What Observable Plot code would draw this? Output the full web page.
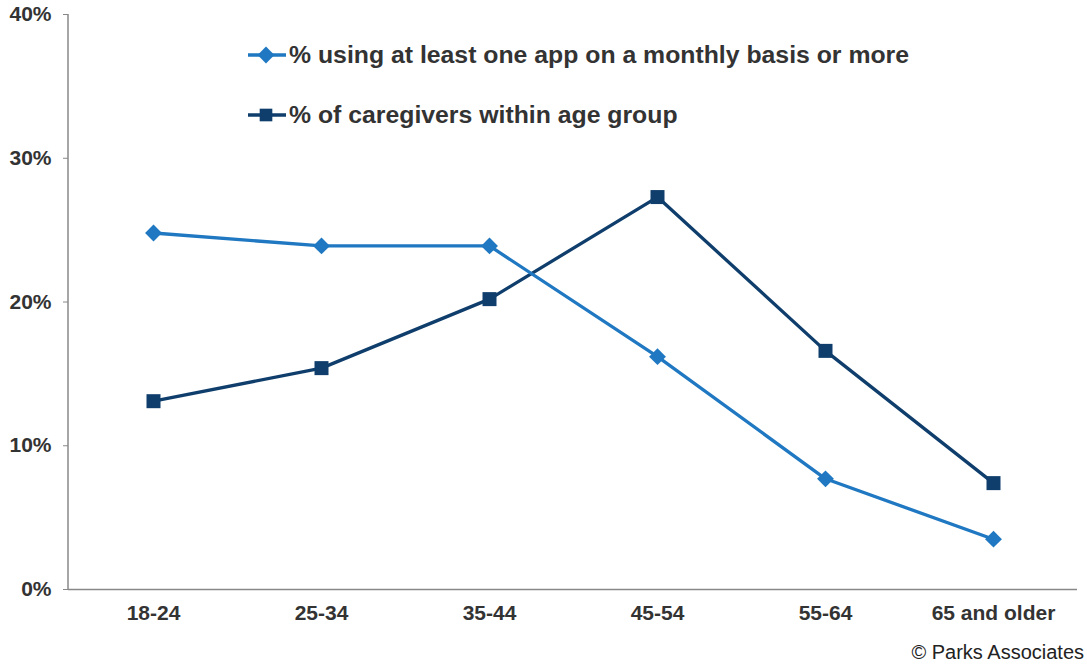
<!DOCTYPE html>
<html>
<head>
<meta charset="utf-8">
<script src="https://cdn.jsdelivr.net/npm/d3@7"></script>
<script src="https://cdn.jsdelivr.net/npm/@observablehq/plot@0.6"></script>
<style>
  html, body { margin: 0; padding: 0; background: #fff; }
  #wrap { position: relative; width: 1087px; height: 666px; font-family: "Liberation Sans", Arial, sans-serif; }
  .legend { position: absolute; left: 248px; font-weight: bold; font-size: 24.8px; color: #333; display: flex; align-items: center; white-space: nowrap; }
  .legend svg { display: block; margin-right: 1px; }
  #caption { position: absolute; right: 3px; top: 641px; font-size: 20px; color: #222; }
</style>
</head>
<body>
<div id="wrap"></div>
<script>
const ageGroups = ["18-24", "25-34", "35-44", "45-54", "55-64", "65 and older"];
const appUsers = [24.8, 23.9, 23.9, 16.2, 7.7, 3.5];
const caregivers = [13.1, 15.4, 20.2, 27.3, 16.6, 7.4];
const yTicks = [0, 10, 20, 30, 40];
const seriesNames = ["% using at least one app on a monthly basis or more", "% of caregivers within age group"];
const colors = ["#1f78c1", "#0f3e6c"];
const symbols = ["diamond2", "square"];

const rowsA = ageGroups.map((g, i) => ({age: g, value: appUsers[i]}));
const rowsC = ageGroups.map((g, i) => ({age: g, value: caregivers[i]}));

const chart = Plot.plot({
  width: 1087,
  height: 666,
  marginLeft: 68,
  marginRight: 10,
  marginTop: 14,
  marginBottom: 77,
  style: {fontFamily: "Liberation Sans, Arial, sans-serif", fontSize: "21px", fontWeight: "bold", color: "#333", background: "#fff"},
  x: {type: "point", domain: ageGroups, padding: 0.5, label: null},
  y: {domain: [0, 40], label: null},
  marks: [
    Plot.axisY({ticks: yTicks, tickFormat: d => d + "%", tickSize: 5, tickPadding: 12, stroke: "#888", strokeOpacity: 1, fill: "#333", fontSize: 21, fontWeight: "bold", label: null}),
    Plot.axisX({tickSize: 0, tickPadding: 16, fill: "#333", fontSize: 21, fontWeight: "bold", label: null}),
    Plot.ruleY([0], {stroke: "#888", strokeWidth: 1.5}),
    Plot.line(rowsC, {x: "age", y: "value", stroke: colors[1], strokeWidth: 3.3}),
    Plot.dot(rowsC, {x: "age", y: "value", symbol: symbols[1], r: 7.9, fill: colors[1], stroke: "none"}),
    Plot.line(rowsA, {x: "age", y: "value", stroke: colors[0], strokeWidth: 3.3}),
    Plot.dot(rowsA, {x: "age", y: "value", symbol: symbols[0], r: 7.6, fill: colors[0], stroke: "none"})
  ]
});

const wrap = document.getElementById("wrap");
wrap.appendChild(chart);
const svg = d3.select(chart);
const ys = chart.scale("y");
svg.insert("line", ":first-child").attr("x1", 68).attr("x2", 68).attr("y1", ys.apply(40)).attr("y2", ys.apply(0)).attr("stroke", "#888").attr("stroke-width", 1.5);

// legend
seriesNames.forEach((name, i) => {
  const div = document.createElement("div");
  div.className = "legend";
  div.style.top = (i === 0 ? 40 : 100) + "px";
  const s = d3.create("svg").attr("width", 40).attr("height", 30);
  s.append("line").attr("x1", 0).attr("x2", 38).attr("y1", 15).attr("y2", 15).attr("stroke", colors[i]).attr("stroke-width", 3.3);
  const sym = d3.symbol().type(i === 0 ? d3.symbolDiamond2 : d3.symbolSquare).size(i === 0 ? 180 : 160);
  s.append("path").attr("d", sym()).attr("transform", "translate(18,15)").attr("fill", colors[i]);
  div.appendChild(s.node());
  const t = document.createElement("span");
  t.textContent = name;
  div.appendChild(t);
  wrap.appendChild(div);
});

const cap = document.createElement("div");
cap.id = "caption";
cap.textContent = "© Parks Associates";
wrap.appendChild(cap);
</script>
</body>
</html>
